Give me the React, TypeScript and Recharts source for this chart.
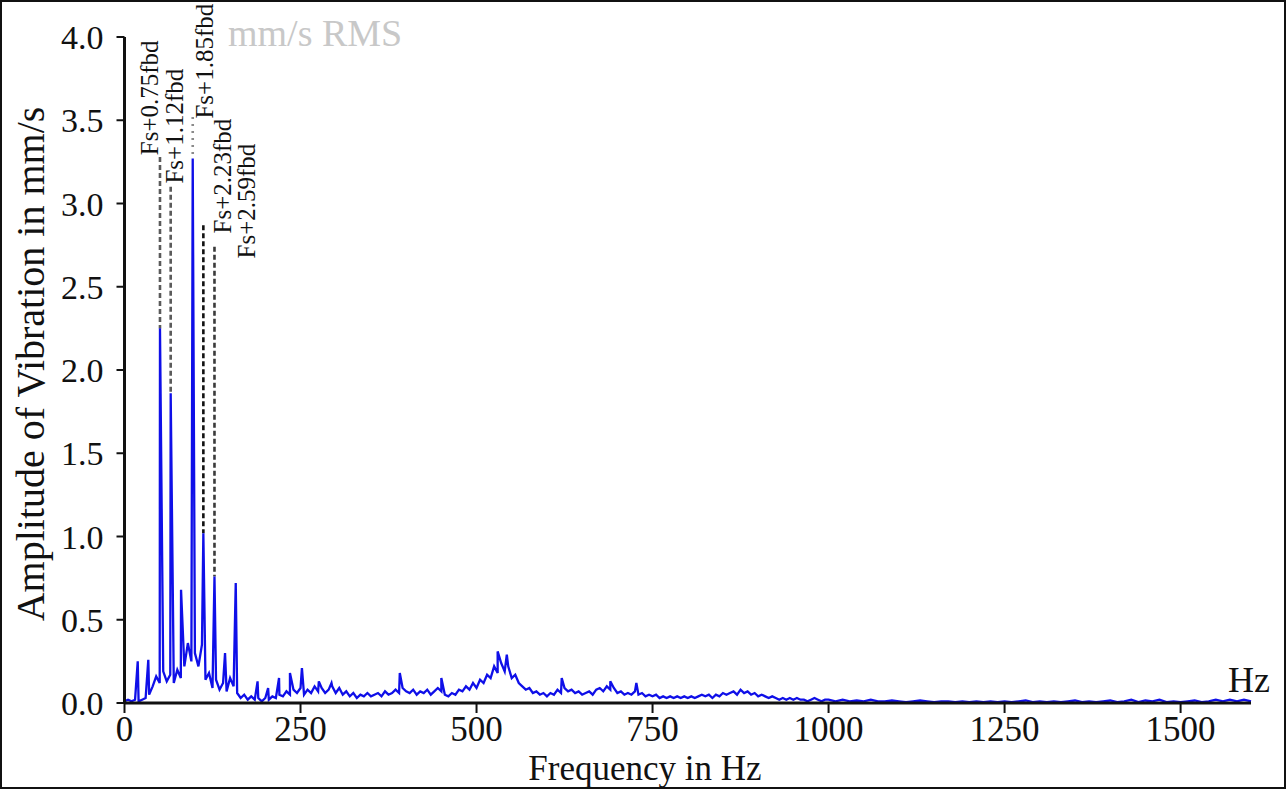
import React from 'react';
import { ComposedChart, Line, Scatter, XAxis, YAxis, ReferenceLine } from 'recharts';

// ---------- DATA ----------
// broadband spectrum 0..1000 Hz sampled every 5 Hz (mm/s RMS)
const LOW_STEP_HZ = 5;
const lowBandAmps = [
  0.01, 0.02, 0.01, 0.02, 0.01, 0.02, 0.03, 0.05, 0.10, 0.16,
  0.12, 0.19, 0.13, 0.17, 0.12, 0.20, 0.15, 0.22, 0.36, 0.25,
  0.30, 0.22, 0.35, 0.14, 0.18, 0.09, 0.14, 0.08, 0.12, 0.07,
  0.15, 0.10, 0.06, 0.03, 0.05, 0.02, 0.04, 0.02, 0.03, 0.01,
  0.03, 0.02, 0.04, 0.03, 0.05, 0.04, 0.07, 0.05, 0.08, 0.06,
  0.09, 0.05, 0.08, 0.06, 0.10, 0.07, 0.09, 0.06, 0.08, 0.10,
  0.06, 0.09, 0.05, 0.07, 0.04, 0.06, 0.03, 0.05, 0.04, 0.06,
  0.04, 0.05, 0.06, 0.04, 0.07, 0.05, 0.06, 0.08, 0.06, 0.09,
  0.07, 0.06, 0.08, 0.05, 0.07, 0.06, 0.08, 0.05, 0.07, 0.09,
  0.07, 0.05, 0.04, 0.06, 0.05, 0.08, 0.07, 0.10, 0.08, 0.12,
  0.09, 0.14, 0.12, 0.17, 0.15, 0.22, 0.18, 0.24, 0.19, 0.22,
  0.15, 0.17, 0.12, 0.10, 0.08, 0.09, 0.06, 0.07, 0.05, 0.06,
  0.04, 0.06, 0.05, 0.08, 0.06, 0.09, 0.07, 0.08, 0.06, 0.07,
  0.05, 0.06, 0.07, 0.05, 0.08, 0.09, 0.07, 0.10, 0.08, 0.09,
  0.06, 0.07, 0.05, 0.06, 0.05, 0.07, 0.05, 0.06, 0.04, 0.05,
  0.04, 0.05, 0.03, 0.04, 0.03, 0.04, 0.03, 0.04, 0.03, 0.04,
  0.03, 0.04, 0.03, 0.04, 0.05, 0.04, 0.05, 0.03, 0.05, 0.04,
  0.06, 0.05, 0.06, 0.07, 0.05, 0.08, 0.06, 0.07, 0.05, 0.06,
  0.04, 0.05, 0.04, 0.03, 0.04, 0.03, 0.02, 0.03, 0.02, 0.03,
  0.02, 0.03, 0.02, 0.02, 0.01, 0.02, 0.03, 0.02, 0.01, 0.02,
  0.02,
];

// 1010..1600 Hz sampled every 10 Hz
const HIGH_START_HZ = 1010;
const HIGH_STEP_HZ = 10;
const highBandAmps = [
  0.01, 0.02, 0.01, 0.015, 0.01, 0.02, 0.01, 0.01, 0.015, 0.01,
  0.005, 0.01, 0.015, 0.01, 0.005, 0.01, 0.01, 0.005, 0.01, 0.005,
  0.01, 0.005, 0.01, 0.005, 0.01, 0.005, 0.01, 0.015, 0.005, 0.01,
  0.005, 0.01, 0.005, 0.01, 0.015, 0.005, 0.01, 0.005, 0.01, 0.015,
  0.005, 0.01, 0.02, 0.005, 0.015, 0.01, 0.02, 0.005, 0.01, 0.005,
  0.01, 0.015, 0.005, 0.01, 0.02, 0.01, 0.02, 0.01, 0.02, 0.01,
];

// discrete spectral lines (Hz, mm/s)
const spikeFreqs = [18.8, 33.8, 50.4, 65.6, 80.3, 96.9, 112, 127.8, 142.8, 158, 189, 204, 219.5, 235, 252, 276, 294, 391, 450, 530, 543, 621, 690, 727];
const spikeAmps = [0.25, 0.26, 2.25, 1.86, 0.68, 3.27, 1.02, 0.76, 0.30, 0.72, 0.13, 0.09, 0.15, 0.18, 0.21, 0.13, 0.12, 0.18, 0.15, 0.31, 0.29, 0.15, 0.13, 0.12];

const xTicks = [0, 250, 500, 750, 1000, 1250, 1500];
const yTicks = [0, 0.5, 1, 1.5, 2, 2.5, 3, 3.5, 4];

// annotation labels (anchor = lower end of rotated label)
const annotationTexts = ['Fs+0.75fbd', 'Fs+1.12fbd', 'Fs+1.85fbd', 'Fs+2.23fbd', 'Fs+2.59fbd'];
const annotationFreqs = [36.2, 71.7, 114.3, 138.5, 172.6];
const annotationAmps = [3.29, 3.12, 3.51, 2.82, 2.67];

// dashed marker lines
const markerFreqs = [50.4, 65.6, 96.9, 112, 127.8];
const markerTops = [3.28, 3.10, 3.52, 2.87, 2.74];
const markerBottoms = [2.25, 1.86, 3.29, 1.02, 0.76];

// ---------- STYLES ----------
const SERIF = "'Liberation Serif', 'Times New Roman', Times, serif";
const markerStyles = [
  { stroke: '#5a5a5a', dash: '5 3' },
  { stroke: '#5a5a5a', dash: '5 3' },
  { stroke: '#8a8a8a', dash: '2 5' },
  { stroke: '#111111', dash: '5 3' },
  { stroke: '#3a3a3a', dash: '5 3' },
];

const spectrum = [
  ...lowBandAmps.map((a, i) => ({ f: i * LOW_STEP_HZ, a })),
  ...highBandAmps.map((a, i) => ({ f: HIGH_START_HZ + i * HIGH_STEP_HZ, a })),
  ...spikeFreqs.map((f, i) => ({ f, a: spikeAmps[i] })),
].sort((p, q) => p.f - q.f);

const annotations = annotationTexts.map((text, i) => ({ f: annotationFreqs[i], a: annotationAmps[i], text }));

const AnnotationLabel = (props: any) => {
  const { cx, cy, payload } = props;
  if (cx == null || cy == null) return null;
  return (
    <text
      x={cx}
      y={cy}
      transform={`rotate(-90 ${cx} ${cy})`}
      dominantBaseline="central"
      fontFamily={SERIF}
      fontSize={25}
      fill="#111"
    >
      {payload.text}
    </text>
  );
};

export default function App() {
  return (
    <div style={{ position: 'absolute', left: 0, top: 0, width: 1286, height: 789, background: '#fff' }}>
      <ComposedChart width={1286} height={789} margin={{ top: 37, right: 35, bottom: 26, left: 64.5 }}>
        <XAxis
          type="number"
          dataKey="f"
          domain={[0, 1600]}
          ticks={xTicks}
          interval={0}
          height={60}
          tickSize={10}
          tickMargin={3}
          axisLine={{ stroke: '#111', strokeWidth: 3 }}
          tickLine={{ stroke: '#111', strokeWidth: 2 }}
          tick={{ fontSize: 35, fill: '#111', fontFamily: SERIF }}
        />
        <YAxis
          type="number"
          domain={[0, 4]}
          ticks={yTicks}
          interval={0}
          width={60}
          tickSize={8}
          tickMargin={13}
          tickFormatter={(v: number) => v.toFixed(1)}
          axisLine={{ stroke: '#111', strokeWidth: 3 }}
          tickLine={{ stroke: '#111', strokeWidth: 2 }}
          tick={{ fontSize: 34, fill: '#111', fontFamily: SERIF }}
        />
        {markerFreqs.map((f, i) => (
          <ReferenceLine
            key={`m${i}`}
            segment={[{ x: f, y: markerTops[i] }, { x: f, y: markerBottoms[i] }]}
            stroke={markerStyles[i].stroke}
            strokeDasharray={markerStyles[i].dash}
            strokeWidth={2.6}
            ifOverflow="visible"
          />
        ))}
        <Line
          data={spectrum}
          dataKey="a"
          type="linear"
          dot={false}
          stroke="#0f0fe8"
          strokeWidth={2.3}
          isAnimationActive={false}
        />
        <Scatter data={annotations} dataKey="a" shape={AnnotationLabel} isAnimationActive={false} />
      </ComposedChart>
      <svg width={1286} height={789} style={{ position: 'absolute', left: 0, top: 0, pointerEvents: 'none' }}>
        <text
          x={30}
          y={364}
          transform="rotate(-90 30 364)"
          textAnchor="middle"
          dominantBaseline="central"
          fontFamily={SERIF}
          fontSize={40}
          fill="#111"
        >
          Amplitude of Vibration in mm/s
        </text>
        <text x={645} y={780} textAnchor="middle" fontFamily={SERIF} fontSize={35} fill="#111">
          Frequency in Hz
        </text>
        <text x={228} y={46} fontFamily={SERIF} fontSize={38} fill="#c8c8c8">
          mm/s RMS
        </text>
        <text x={1228} y={692} fontFamily={SERIF} fontSize={36} fill="#111">
          Hz
        </text>
        <rect x={1} y={1} width={1284} height={787} fill="none" stroke="#111" strokeWidth={2} />
      </svg>
    </div>
  );
}
